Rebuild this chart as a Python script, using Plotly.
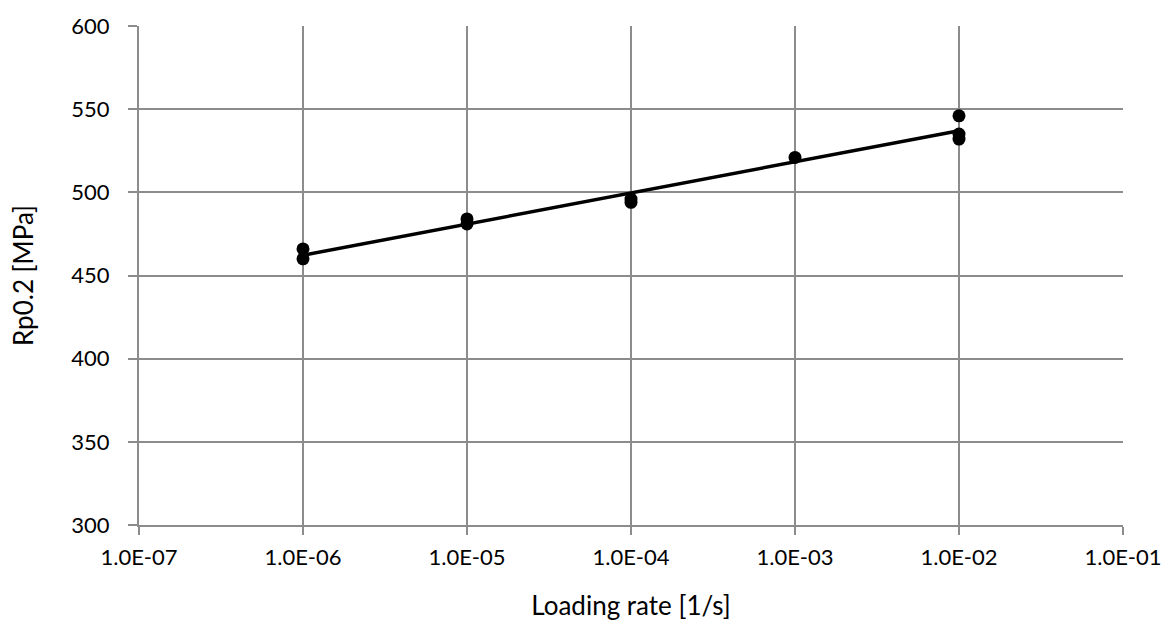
import numpy as np
import plotly.graph_objects as go

rates = [1e-6, 1e-6, 1e-5, 1e-5, 1e-4, 1e-4, 1e-3, 1e-2, 1e-2, 1e-2]
rp02 = [466, 460, 484, 481, 496, 494, 521, 546, 535, 532]
x_tickvals = [1e-7, 1e-6, 1e-5, 1e-4, 1e-3, 1e-2, 1e-1]
x_ticktext = ["1.0E-07", "1.0E-06", "1.0E-05", "1.0E-04", "1.0E-03", "1.0E-02", "1.0E-01"]
y_tickvals = [300, 350, 400, 450, 500, 550, 600]

# logarithmic trendline (least squares on log10 of rate)
lx = np.log10(rates)
slope, intercept = np.polyfit(lx, rp02, 1)
trend_x = [min(rates), max(rates)]
trend_y = [slope * np.log10(v) + intercept for v in trend_x]

fig = go.Figure()
fig.add_trace(go.Scatter(x=rates, y=rp02, mode="markers",
                         marker=dict(color="black", size=13), showlegend=False))
fig.add_trace(go.Scatter(x=trend_x, y=trend_y, mode="lines",
                         line=dict(color="black", width=3.5), showlegend=False))

grid = "#8c8c8c"
font = dict(family="Lato, Open Sans, sans-serif", size=22, color="black")
fig.update_layout(
    width=1175, height=633,
    margin=dict(l=139, r=52, t=19, b=108),
    paper_bgcolor="white", plot_bgcolor="white",
    font=font,
    xaxis=dict(type="log", range=[-7, -1], tickvals=x_tickvals, ticktext=x_ticktext,
               showgrid=True, gridcolor=grid, gridwidth=2,
               showline=True, linecolor=grid, linewidth=2,
               ticks="outside", ticklen=8, tickcolor=grid, tickwidth=2,
               zeroline=False, ticklabelstandoff=4,
               title=dict(text="Loading rate [1/s]", font=dict(size=26), standoff=27)),
    yaxis=dict(range=[300, 600], tickvals=y_tickvals,
               showgrid=True, gridcolor=grid, gridwidth=2,
               showline=True, linecolor=grid, linewidth=2,
               ticks="outside", ticklen=9, tickcolor=grid, tickwidth=2,
               zeroline=False, ticklabelstandoff=14,
               title=dict(text="Rp0.2 [MPa]", font=dict(size=26), standoff=30)),
)
fig.write_html("out.html")
